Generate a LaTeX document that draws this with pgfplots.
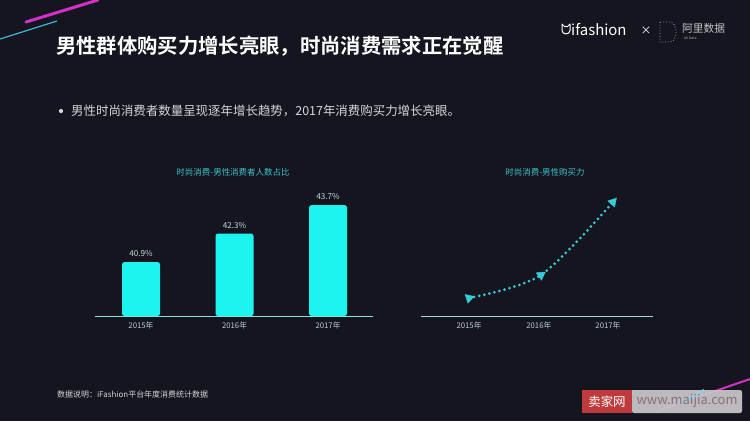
\documentclass[border=0pt]{standalone}
\usepackage{pgfplots}
\pgfplotsset{compat=1.18}
\usepackage{pgfplotstable}
\usepackage{fontspec}
\setmainfont{Noto Sans CJK SC}[BoldFont={Noto Sans CJK SC Bold}]
\setsansfont{Noto Sans CJK SC}[BoldFont={Noto Sans CJK SC Bold}]

\definecolor{bg}{HTML}{14151F}
\definecolor{barcyan}{HTML}{1CF4EF}
\definecolor{linecyan}{HTML}{38CAD6}
\definecolor{ttl}{HTML}{3EC3CB}
\definecolor{ticktxt}{HTML}{B8CFD2}
\definecolor{baseA}{HTML}{8EDFE0}
\definecolor{baseB}{HTML}{A9D9DC}
\definecolor{lbltxt}{HTML}{C9DCDD}
\definecolor{bullettxt}{HTML}{D6D6D8}
\definecolor{decopink}{HTML}{D42FCB}
\definecolor{decocyan}{HTML}{3FB6D6}
\definecolor{wmred}{HTML}{BF3A3D}
\definecolor{wmgray}{HTML}{C9C7CA}
\definecolor{wmtext}{HTML}{8C6E7A}

% share of male consumers (%)
\pgfplotstableread{
x val
0 40.9
1 42.3
2 43.7
}\sharetable

% male purchasing power (relative)
\pgfplotstableread{
x val
0 18
1 41
2 114
}\powertable

\begin{document}
\begin{tikzpicture}
\begin{scope}[x=1bp,y=-1bp]
\fill[bg] (0,0) rectangle (750,421);
\useasboundingbox (0,0) rectangle (750,421);
% decorative strokes
\draw[decopink, line width=3bp, line cap=round] (26,22) -- (98,0);
\draw[decocyan, line width=1.2bp] (0,39) -- (57,21);
% headline
\node[anchor=west, inner sep=0, text=white, font=\fontsize{20.4}{24}\selectfont\bfseries] at (56,46)
  {男性群体购买力增长亮眼，时尚消费需求正在觉醒};
\fill[bullettxt] (61,111) circle (2.1);
\node[anchor=west, inner sep=0, text=bullettxt, font=\fontsize{12.5}{15}\selectfont] at (71,111)
  {男性时尚消费者数量呈现逐年增长趋势，2017年消费购买力增长亮眼。};
% logo
\draw[white, line width=1bp, line join=round]
  (562,24) -- (564.5,26.5) -- (567.5,26.5) -- (570,24) -- (570,30.5)
  .. controls (570,35) and (562,35) .. (562,30.5) -- cycle;
\node[anchor=west, inner sep=0, text=white, font=\fontsize{15}{18}\selectfont] at (571,30) {ifashion};
\node[anchor=center, inner sep=0, text=white, font=\fontsize{11}{13}\selectfont] at (646,30.5) {×};
\draw[gray!70, line width=0.8bp, dotted] (660,22) -- (660,42) -- (670,42) .. controls (678,42) and (678,22) .. (670,22) -- cycle;
\node[anchor=west, inner sep=0, text=gray!45, font=\fontsize{10.8}{13}\selectfont] at (682,28.5) {阿里数据};
\node[anchor=west, inner sep=0, text=gray!60, font=\fontsize{3.5}{4}\selectfont] at (684,38.5) {Ali Data};
% chart titles
\node[text=ttl, font=\fontsize{8.5}{10}\selectfont] at (233,172) {时尚消费-男性消费者人数占比};
\node[text=ttl, font=\fontsize{8.5}{10}\selectfont] at (545,172) {时尚消费-男性购买力};
% footnote
\node[anchor=west, inner sep=0, text=bullettxt, font=\fontsize{8}{10}\selectfont] at (57,394)
  {数据说明：iFashion平台年度消费统计数据};
% watermark
\draw[decopink, line width=2bp] (657,411) -- (750,379);
\fill[wmred] (582,390) rectangle (632,413);
\fill[wmgray, opacity=0.93, rounded corners=2bp] (632,390) -- (742,390) -- (742,413) -- (632,413) [sharp corners] -- cycle;
\draw[decocyan!60!white, line width=2bp] (680,404) -- (704,390);
\node[text=white, font=\fontsize{12.5}{15}\selectfont] at (607,401.5) {卖家网};
\node[text=wmtext, font=\fontsize{13}{15}\selectfont] at (687,401.5) {www.maijia.com};
\end{scope}

% bar chart
\begin{axis}[
  at={(95bp,-316bp)}, anchor=south west,
  scale only axis, width=278bp, height=150bp,
  xmin=-0.492, xmax=2.481, ymin=38.25, ymax=45.62,
  ybar, bar width=38bp,
  axis x line*=bottom, axis y line=none,
  x axis line style={baseA, line width=1bp, -},
  xtick={0,1,2}, xticklabels={2015年,2016年,2017年},
  major tick length=0pt,
  xticklabel style={anchor=north, inner sep=0pt, yshift=-6bp, text=ticktxt, font=\fontsize{7.8}{9}\selectfont},
  /pgf/number format/assume math mode=true,
  nodes near coords={\pgfmathprintnumber[fixed,fixed zerofill,precision=1]{\pgfplotspointmeta}\%},
  every node near coord/.append style={inner sep=0pt, yshift=5bp, text=lbltxt, font=\fontsize{8.2}{10}\selectfont},
]
\addplot[fill=barcyan, draw=none, rounded corners=2.5bp] table[x=x, y=val] {\sharetable};
\end{axis}

% purchasing power line
\begin{axis}[
  at={(421bp,-316bp)}, anchor=south west,
  scale only axis, width=232bp, height=150bp,
  xmin=-0.667, xmax=2.556, ymin=0, ymax=150,
  axis x line*=bottom, axis y line=none,
  x axis line style={baseB, line width=1bp, -},
  xtick={0,0.97,1.93}, xticklabels={2015年,2016年,2017年},
  major tick length=0pt,
  xticklabel style={anchor=north, inner sep=0pt, yshift=-6bp, text=ticktxt, font=\fontsize{7.8}{9}\selectfont},
  clip=false,
]
\addplot[linecyan, line width=3bp, smooth, tension=0.5, line cap=round, dash pattern=on 0bp off 5.2bp, no marks]
  table[x=x, y=val] {\powertable};
\addplot[only marks, mark=triangle*, mark size=5.2bp, mark options={rotate=-72, fill=linecyan, draw=linecyan, line width=0.5bp}]
  coordinates {(0,18)};
\addplot[only marks, mark=triangle*, mark size=5.2bp, mark options={rotate=-55, fill=linecyan, draw=linecyan, line width=0.5bp}]
  coordinates {(1,41)};
\addplot[only marks, mark=triangle*, mark size=5.2bp, mark options={rotate=-42, fill=linecyan, draw=linecyan, line width=0.5bp}]
  coordinates {(2,114)};
\end{axis}
\end{tikzpicture}
\end{document}
